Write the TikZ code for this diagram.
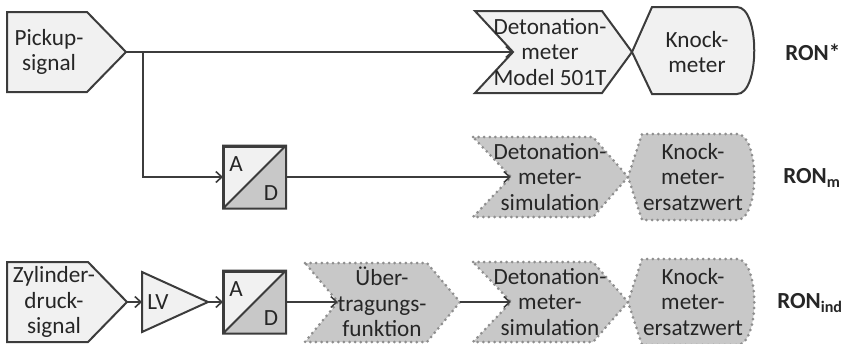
\documentclass[tikz,border=0pt]{standalone}
\usepackage{fontspec}
\setmainfont{Carlito}
\usetikzlibrary{arrows.meta,calc}
\definecolor{linegray}{HTML}{3C3C3C}
\definecolor{boxfill}{HTML}{F1F1F1}
\definecolor{simfill}{HTML}{C8C8C8}
\definecolor{dotgray}{HTML}{8E8E8E}
\definecolor{txtgray}{HTML}{262626}
\begin{document}
\begin{tikzpicture}
[x=0.5pt,y=-0.5pt,
 box/.style={draw=linegray, fill=boxfill, line width=1pt},
 simbox/.style={draw=dotgray, fill=simfill, line width=1.5pt, line cap=round, dash pattern=on 0pt off 2.8pt},
 txt/.style={align=center, text=txtgray, inner sep=0pt, font=\fontsize{11.6}{12.8}\selectfont},
 ron/.style={anchor=west, text=txtgray, inner sep=0pt, font=\fontsize{11.5}{13}\selectfont\bfseries},
 wire/.style={draw=linegray, line width=0.8pt, -{Straight Barb[length=3pt,width=5.5pt]}},
 adbox/.style={draw=linegray, fill=boxfill, line width=1pt, minimum size=30.5pt, inner sep=0pt}]
\useasboundingbox (0,0) rectangle (844,343);
% row 1
\draw[box] (7,12) -- (87,12) -- (126,52) -- (87,92) -- (7,92) -- cycle;
\coordinate (pick-out) at (126,52);
\node[txt] (pick) at (49,52) {Pickup-\\signal};
\draw[box] (475,11) -- (602,11) -- (632,52) -- (602,93) -- (475,93) -- (513,52) -- cycle;
\coordinate (detm-in) at (513,52);
\node[txt] (detm) at (550,52) {Detonation-\\meter\\Model 501T};
\draw[box] (632,52) -- (652,7) -- (737,7) .. controls (760,7) and (760,94) .. (737,94) -- (652,94) -- cycle;
\node[txt] (knock) at (697,52) {Knock-\\meter};
\node[ron] (ron) at (785,52) {RON*};
% row 2 and 3
\node[adbox] (ad1) at (254.5,177) {};
\node[adbox] (ad2) at (254.5,302) {};
\foreach \a in {ad1,ad2}
{
  \fill[simfill] (\a.south west) -- (\a.north east) -- (\a.south east) -- cycle;
  \draw[linegray, line width=1pt] (\a.south west) -- (\a.north east) (\a.south west) rectangle (\a.north east);
  \node[txt] at ([shift={(13,19)}]\a.north west) {A};
  \node[txt] at ([shift={(-15,-15)}]\a.south east) {D};
}
\draw[box] (7,262) -- (88,262) -- (127,302) -- (88,342) -- (7,342) -- cycle;
\coordinate (zyl-out) at (127,302);
\node[txt] (zyl) at (54,302) {Zylinder-\\druck-\\signal};
\draw[box] (142,272) -- (208,302) -- (142,332) -- cycle;
\coordinate (lv-in) at (142,302);
\coordinate (lv-out) at (208,302);
\node[txt] (lv) at (158,302) {LV};
\draw[simbox] (305,263) -- (427,263) -- (460,302) -- (427,342) -- (305,342) -- (338,302) -- cycle;
\coordinate (ueb-in) at (338,302);
\coordinate (ueb-out) at (460,302);
\node[txt] (ueb) at (382,302) {Über-\\tragungs-\\funktion};
\foreach \y/\n in {177/m, 302/ind}
{
  \draw[simbox] (473,\y-40) -- (593,\y-40) -- (628,\y) -- (593,\y+40) -- (473,\y+40) -- (511,\y) -- cycle;
  \coordinate (det-\n-in) at (511,\y);
  \node[txt] (det-\n) at (550,\y) {Detonation-\\meter-\\simulation};
  \draw[simbox] (628,\y) -- (642,\y-43) -- (737,\y-43) .. controls (760,\y-43) and (760,\y+43) .. (737,\y+43) -- (642,\y+43) -- cycle;
  \node[txt] (knock-\n) at (693,\y) {Knock-\\meter-\\ersatzwert};
}
\node[ron] (ron-m) at (783,178) {RON\textsubscript{m}};
\node[ron] (ron-ind) at (777,303) {RON\textsubscript{ind}};
% connectors
\draw[wire] (pick-out) -- (detm-in);
\draw[wire] (pick-out) ++(17,0) |- (ad1);
\draw[wire] (ad1) -- (det-m-in);
\draw[wire] (zyl-out) -- (lv-in);
\draw[wire] (lv-out) -- (ad2);
\draw[wire] (ad2) -- (ueb-in);
\draw[wire] (ueb-out) -- (det-ind-in);
\end{tikzpicture}
\end{document}
